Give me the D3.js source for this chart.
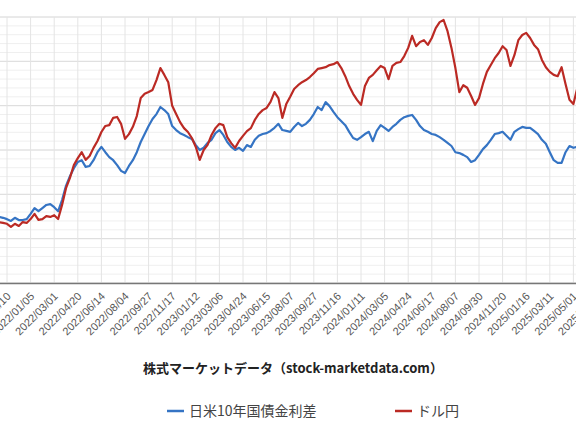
<!DOCTYPE html>
<meta charset="utf-8">
<style>
  body {
    margin: 0;
    background: white;
  }

  svg {
    display: block;
    font-family: "Noto Sans CJK JP", "Noto Sans", sans-serif;
  }

  .xaxis text {
    font-family: "Liberation Sans", Arial, sans-serif;
    font-size: 11px;
    fill: #555;
  }
</style>

<body>
  <svg id="chart" width="576" height="430"></svg>

  <script src="https://d3js.org/d3.v7.min.js"></script>
  <script>
    // one sample every 6 trading days, tick label every 6 samples
    const tickLabels = ["2021/11/10", "2022/01/05", "2022/03/01", "2022/04/20", "2022/06/14", "2022/08/04",
      "2022/09/27", "2022/11/17", "2023/01/12", "2023/03/06", "2023/04/24", "2023/06/15", "2023/08/07",
      "2023/09/27", "2023/11/16", "2024/01/11", "2024/03/05", "2024/04/24", "2024/06/17", "2024/08/07",
      "2024/09/30", "2024/11/20", "2025/01/16", "2025/03/11", "2025/05/01", "2025/06/20"];

    // 日米10年国債金利差 (%)
    const spread = [1.49, 1.47, 1.44, 1.40, 1.47, 1.42, 1.42, 1.44, 1.56, 1.69,
      1.62, 1.69, 1.76, 1.78, 1.71, 1.62, 1.87, 2.19, 2.41, 2.59,
      2.73, 2.77, 2.62, 2.64, 2.77, 2.95, 3.07, 2.95, 2.84, 2.77,
      2.66, 2.53, 2.48, 2.64, 2.77, 2.95, 3.18, 3.36, 3.54, 3.70,
      3.81, 3.97, 3.90, 3.81, 3.54, 3.45, 3.38, 3.34, 3.29, 3.25,
      3.11, 3.00, 3.05, 3.16, 3.23, 3.38, 3.45, 3.34, 3.18, 3.07,
      3.00, 3.05, 2.98, 3.11, 3.07, 3.23, 3.32, 3.36, 3.38, 3.43,
      3.50, 3.59, 3.45, 3.43, 3.41, 3.52, 3.61, 3.54, 3.59, 3.68,
      3.81, 3.97, 3.90, 4.08, 3.99, 3.86, 3.74, 3.65, 3.56, 3.41,
      3.27, 3.23, 3.29, 3.36, 3.41, 3.20, 3.43, 3.56, 3.50, 3.43,
      3.52, 3.59, 3.68, 3.74, 3.77, 3.79, 3.68, 3.54, 3.45, 3.41,
      3.36, 3.34, 3.29, 3.23, 3.16, 3.09, 2.95, 2.93, 2.89, 2.84,
      2.73, 2.77, 2.89, 3.02, 3.11, 3.23, 3.36, 3.38, 3.41, 3.32,
      3.23, 3.41, 3.47, 3.52, 3.50, 3.50, 3.43, 3.36, 3.23, 3.14,
      2.95, 2.77, 2.71, 2.71, 2.95, 3.09, 3.05, 3.07, 3.05];

    // ドル円
    const usdjpy = [114.2, 114.0, 113.8, 113.1, 113.8, 113.3, 114.2, 114.0, 114.9, 116.1,
      114.7, 114.9, 115.6, 115.4, 115.8, 114.9, 118.2, 122.1, 124.5, 127.5,
      129.1, 130.5, 128.7, 129.6, 131.5, 133.1, 135.2, 136.6, 136.8, 138.5,
      138.7, 137.1, 133.6, 134.7, 136.4, 138.9, 143.1, 144.1, 144.5, 145.0,
      147.3, 150.1, 148.5, 146.8, 141.3, 139.4, 137.5, 136.1, 135.2, 133.8,
      131.7, 128.7, 131.0, 132.2, 134.5, 136.1, 137.1, 136.8, 134.0, 132.6,
      131.5, 133.1, 134.3, 135.4, 136.1, 138.0, 139.4, 140.3, 140.8, 142.2,
      144.5, 143.1, 138.5, 141.7, 143.4, 145.2, 146.1, 146.8, 147.3, 148.0,
      148.9, 149.9, 150.1, 150.3, 150.8, 151.0, 151.5, 150.1, 148.2, 145.9,
      144.1, 142.7, 141.5, 145.9, 147.8, 148.5, 149.6, 150.6, 150.1, 147.5,
      150.6, 151.3, 151.5, 152.9, 154.8, 157.6, 155.2, 156.2, 156.6, 155.5,
      157.1, 159.4, 160.8, 161.3, 158.7, 154.8, 150.1, 144.5, 146.1, 145.5,
      143.6, 141.5, 143.1, 146.4, 149.2, 150.8, 152.4, 153.6, 155.2, 154.3,
      150.6, 153.1, 156.6, 157.8, 158.3, 157.1, 155.5, 154.5, 152.0, 150.3,
      149.2, 148.5, 148.2, 150.3, 146.4, 142.7, 141.7, 145.5, 146.4];

    const seriesNames = ["日米10年国債金利差", "ドル円"];
    const colors = ["#3574c4", "#bb2a24"];

    const plotTop = 17, plotBottom = 283;
    const svg = d3.select("#chart");

    // plot is wider than the window: the left and right axes are cut off
    const x = d3.scaleLinear().domain([2, 146]).range([7, 573.4]);
    const yL = d3.scaleLinear().domain([0, 6]).range([plotBottom, plotTop]);
    const yR = d3.scaleLinear().domain([100, 162]).range([plotBottom, plotTop]);
    const tickIdx = tickLabels.map((d, k) => 2 + 6 * k);

    // grid
    const grid = svg.append("g");
    grid.selectAll(".minor")
      .data(d3.range(0, 6.001, 0.2))
      .enter().append("line")
      .attr("x1", 0).attr("x2", 576)
      .attr("y1", d => yL(d)).attr("y2", d => yL(d))
      .attr("stroke", "#efefef");
    grid.selectAll(".major")
      .data(yL.ticks(6))
      .enter().append("line")
      .attr("x1", 0).attr("x2", 576)
      .attr("y1", d => yL(d)).attr("y2", d => yL(d))
      .attr("stroke", "#dcdcdc");
    grid.selectAll(".vert")
      .data(tickIdx)
      .enter().append("line")
      .attr("x1", d => x(d)).attr("x2", d => x(d))
      .attr("y1", plotTop).attr("y2", plotBottom)
      .attr("stroke", "#e4e4e4");

    // lines
    const lineL = d3.line().x((d, i) => x(i)).y(d => yL(d));
    const lineR = d3.line().x((d, i) => x(i)).y(d => yR(d));
    svg.append("path").datum(spread)
      .attr("d", lineL).attr("fill", "none")
      .attr("stroke", colors[0]).attr("stroke-width", 2.2).attr("stroke-linejoin", "round");
    svg.append("path").datum(usdjpy)
      .attr("d", lineR).attr("fill", "none")
      .attr("stroke", colors[1]).attr("stroke-width", 2.2).attr("stroke-linejoin", "round");

    // x axis
    svg.append("line")
      .attr("x1", 0).attr("x2", 576).attr("y1", plotBottom + 0.5).attr("y2", plotBottom + 0.5)
      .attr("stroke", "#777").attr("stroke-width", 1.6);

    const xaxis = d3.axisBottom(x)
      .tickValues(tickIdx)
      .tickFormat((d, k) => tickLabels[k])
      .tickSize(0);
    const gx = svg.append("g").attr("class", "xaxis")
      .attr("transform", "translate(0," + plotBottom + ")")
      .call(xaxis);
    gx.select(".domain").remove();
    gx.selectAll("text")
      .attr("text-anchor", "end")
      .attr("dy", 0)
      .attr("y", 0)
      .attr("transform", "translate(4,14) rotate(-45)");

    // title
    svg.append("text")
      .attr("x", 293).attr("y", 373)
      .attr("text-anchor", "middle")
      .attr("font-size", 13).attr("font-weight", "bold").attr("fill", "#222")
      .text("株式マーケットデータ（stock-marketdata.com）");

    // legend
    const legX = [167, 395];
    const leg = svg.selectAll(".leg")
      .data(seriesNames)
      .enter().append("g")
      .attr("transform", (d, i) => "translate(" + legX[i] + ",411)");
    leg.append("line")
      .attr("x1", 0).attr("x2", 17)
      .attr("stroke", (d, i) => colors[i]).attr("stroke-width", 2.5);
    leg.append("text")
      .attr("x", 22).attr("y", 5)
      .attr("font-size", 14).attr("fill", "#444")
      .text(d => d);
  </script>
</body>
